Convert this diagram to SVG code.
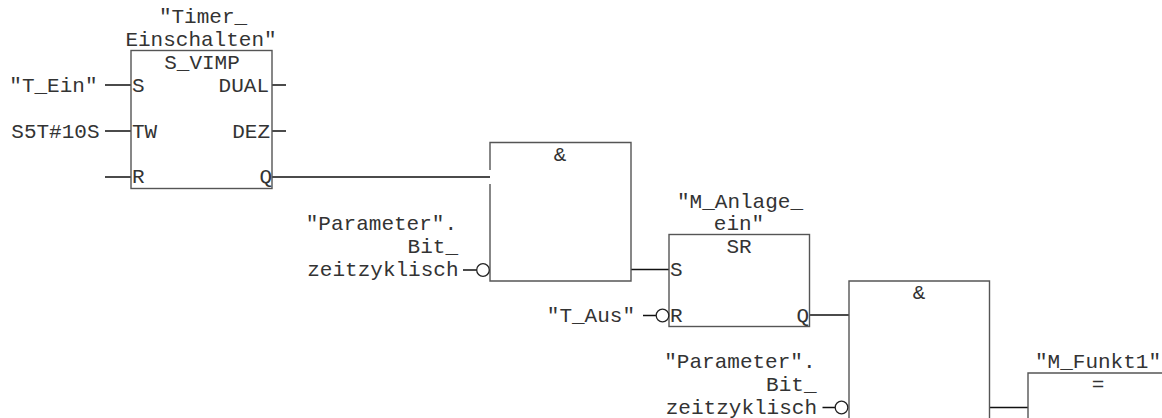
<svg xmlns="http://www.w3.org/2000/svg" width="1162" height="418" viewBox="0 0 1162 418">
<style>
text{font-family:"Liberation Mono",monospace;font-size:21px;fill:#333}
.m{text-anchor:middle}.e{text-anchor:end}
.b{fill:none;stroke:#555;stroke-width:1.4}
.c{fill:none;stroke:#111;stroke-width:1.3}
.n{fill:#fff;stroke:#222;stroke-width:1.3}
</style>
<rect width="1162" height="418" fill="#fff"/>
<g id="connectors">
<path class="c" d="M105 85H131M105 131H131M105 177H131M272 85H286M272 131H286M272 177H490"/>
<path class="c" d="M463 270H477M631 269.500H669M643 315.500H656M810 315H849M822.500 407.500H835M990 407.500H1028"/>
</g>
<g id="timer">
<rect class="b" x="131" y="50.500" width="141" height="138"/>
<text class="m" x="203" y="23">"Timer_</text>
<text class="m" x="201" y="46">Einschalten"</text>
<text class="m" x="202" y="69">S_VIMP</text>
<text x="132" y="92">S</text><text x="132" y="138">TW</text><text x="132" y="183">R</text>
<text class="e" x="269" y="92">DUAL</text><text class="e" x="270" y="138">DEZ</text><text class="e" x="272" y="183">Q</text>
<text class="e" x="97.500" y="92">"T_Ein"</text><text class="e" x="99.500" y="138">S5T#10S</text>
</g>
<g id="and1">
<path class="b" d="M490 170V142.500H631V281H490V184"/>
<text class="m" x="560" y="161">&amp;</text>
<circle class="n" cx="483" cy="270" r="6.300"/>
<text class="e" x="457" y="230">"Parameter".</text><text class="e" x="458" y="253">Bit_</text><text class="e" x="458.500" y="276">zeitzyklisch</text>
</g>
<g id="sr">
<rect class="b" x="669" y="234.500" width="140.500" height="92"/>
<text class="m" x="739" y="253">SR</text>
<text class="m" x="740" y="208">"M_Anlage_</text><text class="m" x="739" y="230">ein"</text>
<text x="670" y="276">S</text><text x="670" y="322">R</text><text class="e" x="809" y="322">Q</text>
<circle class="n" cx="662.500" cy="315.500" r="6.300"/>
<text class="e" x="635" y="322">"T_Aus"</text>
</g>
<g id="and2">
<path class="b" d="M849 418V281H989.500V418"/>
<text class="m" x="919" y="299">&amp;</text>
<circle class="n" cx="841.500" cy="407.500" r="6.300"/>
<text class="e" x="815.500" y="368">"Parameter".</text><text class="e" x="816.500" y="391">Bit_</text><text class="e" x="817" y="413.500">zeitzyklisch</text>
</g>
<g id="coil">
<path class="b" d="M1028 418V373H1162"/>
<text class="m" x="1098" y="368">"M_Funkt1"</text>
<text class="m" x="1098" y="391">=</text>
</g>
</svg>
